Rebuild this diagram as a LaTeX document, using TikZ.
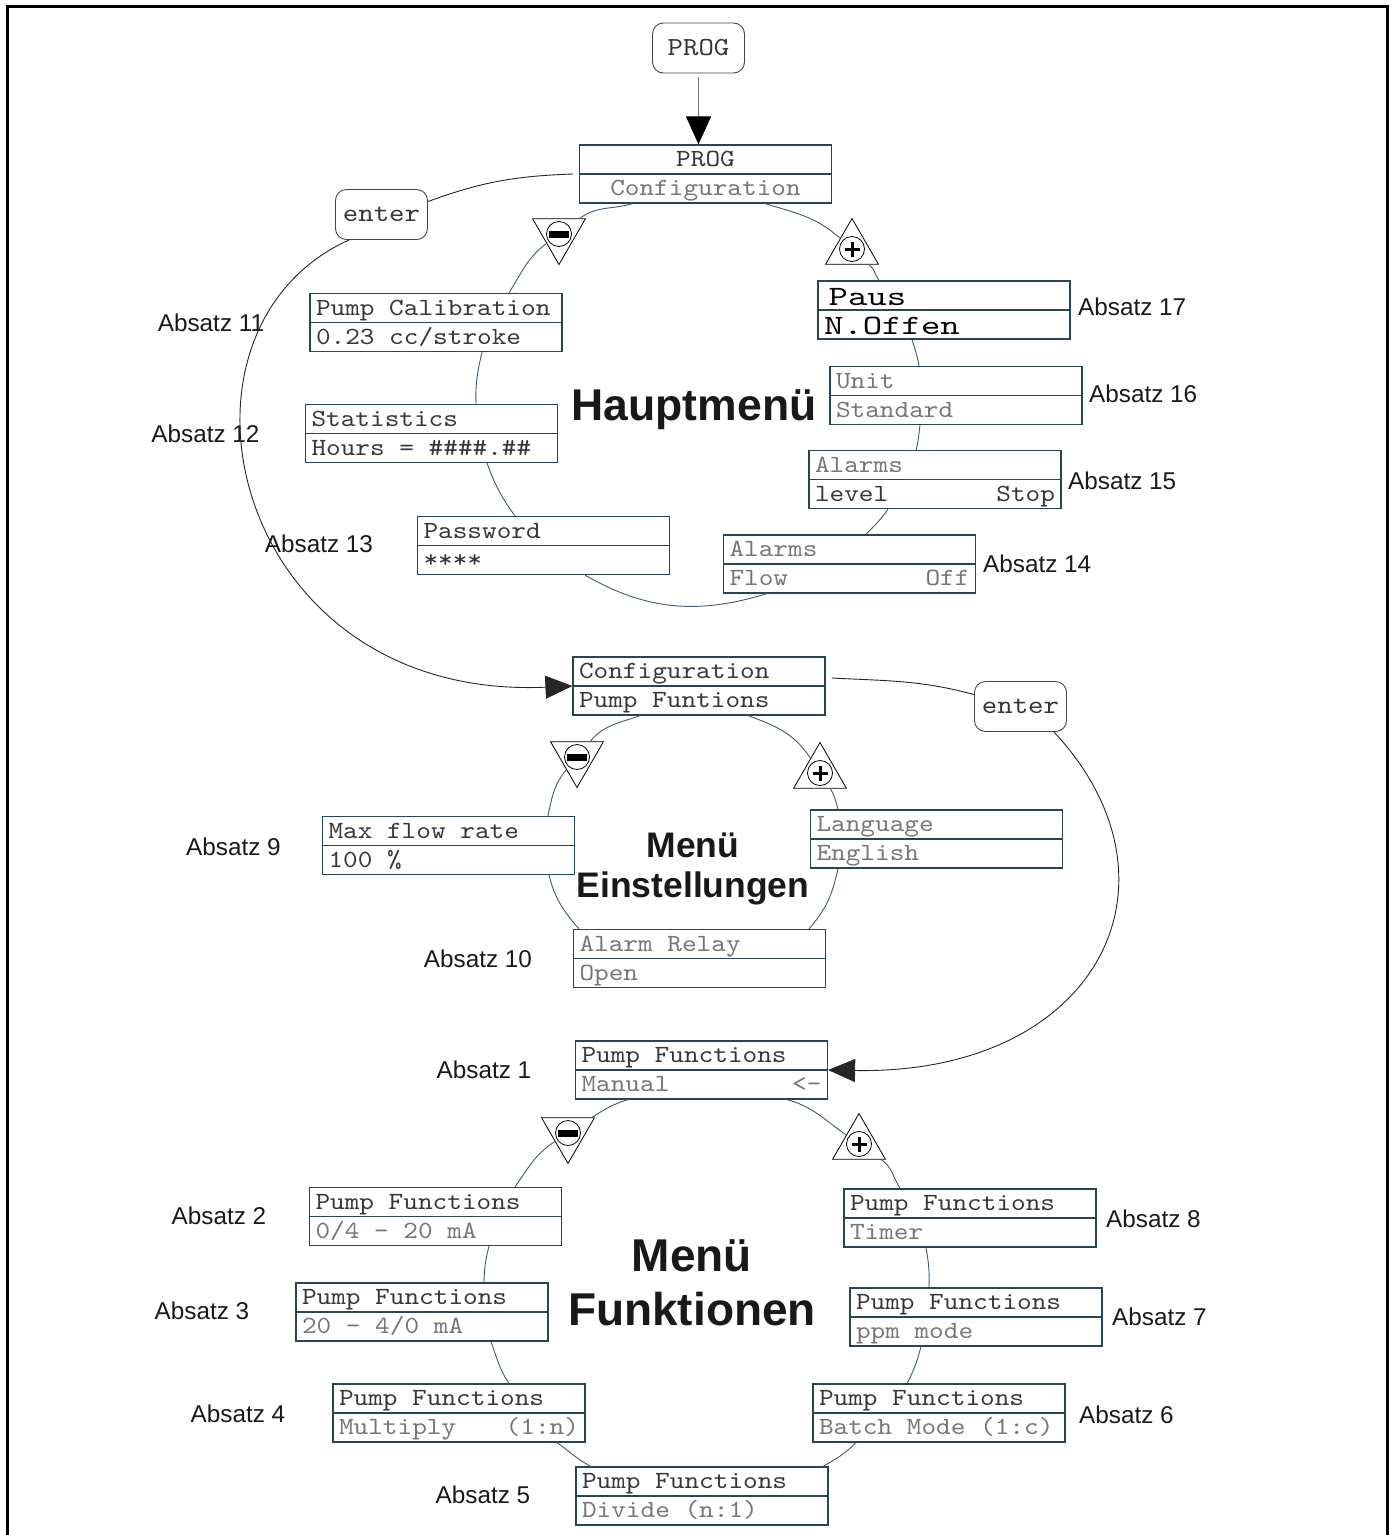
\documentclass[tikz,border=0pt]{standalone}
\usepackage{fontspec}
\setsansfont{Liberation Sans}
\newfontfamily\lcdfont[FakeStretch=1.13]{lmmono10-regular.otf}
\newfontfamily\lcdwide[FakeStretch=1.32]{lmmono10-regular.otf}
\usepackage{xcolor}
\usepackage{tikz}
\usetikzlibrary{shapes.geometric,arrows.meta}

\definecolor{boxline}{RGB}{38,70,86}
\definecolor{ringline}{RGB}{62,92,108}
\definecolor{lcdtext}{RGB}{55,55,55}
\definecolor{lcdlight}{RGB}{118,118,118}
\definecolor{keyline}{RGB}{70,70,70}
\definecolor{labeltext}{RGB}{25,25,25}

\newcommand{\lcdsize}{\lcdfont\fontsize{24.7}{29}\selectfont}
\newcommand{\lcdbig}{\lcdwide\fontsize{28}{29}\selectfont}
\newcommand{\keysize}{\lcdfont\fontsize{26}{30}\selectfont}
\newcommand{\screen}[2]{\spaceskip=14.65pt\relax\xspaceskip=14.65pt\relax
  \rule{0pt}{21.5pt}#1\\\rule[-7.5pt]{0pt}{7.5pt}#2}
\newcommand{\dimtxt}[1]{{\color{lcdlight}#1}}

\tikzset{
  lcd/.style={draw=boxline, fill=white, line width=1.2pt, text width=240pt,
    minimum height=58pt, inner xsep=6pt, inner ysep=0pt, align=left,
    text=lcdtext, font=\lcdsize,
    path picture={\draw[boxline, line width=1.2pt] (path picture bounding box.west) -- (path picture bounding box.east);}},
  key/.style={draw=keyline, fill=white, line width=0.9pt, rounded corners=11pt,
    minimum width=92pt, minimum height=50pt, inner sep=0pt, text=lcdtext, font=\keysize},
  tri/.style={regular polygon, regular polygon sides=3, draw=black, fill=white,
    line width=0.8pt, minimum size=61pt, inner sep=0pt},
  minuskey/.style={tri, shape border rotate=180},
  pluskey/.style={tri},
  ring/.style={draw=ringline, line width=0.9pt},
  link/.style={draw=black!85, line width=0.9pt},
  bigtip/.style={-{Triangle[length=27pt,width=23pt]}},
  absatz/.style={inner sep=0pt, text=labeltext, font=\sffamily\fontsize{24.3}{28}\selectfont},
  menutitle/.style={inner sep=0pt, align=center, text=labeltext}
}

\begin{document}
\begin{tikzpicture}[x=1pt,y=-1pt]
\useasboundingbox (0,0) rectangle (1393,1535);
\draw[line width=3pt] (7,1535) -- (7,6) -- (1387,6) -- (1387,1535);

\node[key] (prog) at (698.5,48) {PROG};
\node[lcd, align=center] (cfg) at (705.5,174) {\screen{PROG}{\dimtxt{Configuration}}};
\node[key] (enterA) at (381.5,214.5) {enter};
\node[minuskey] (mi1) at (559,234) {};
\node[pluskey] (pl1) at (852,249) {};
\node[lcd] (cal) at (436,322.5) {\screen{Pump Calibration}{0.23 cc/stroke}};
\node[lcd] (stat) at (431.5,433.5) {\screen{Statistics}{Hours = \#\#\#\#.\#\#}};
\node[lcd] (pwd) at (543.5,545.5) {\screen{Password}{****}};
\node[lcd, text=black, font=\lcdbig] (paus) at (944,310) {\rule{0pt}{24pt}\,Paus\\\rule[-5pt]{0pt}{5pt}N.Offen};
\node[lcd, text=lcdlight] (unit) at (956,395.5) {\screen{Unit}{Standard}};
\node[lcd] (alarmL) at (935,479.5) {\screen{\dimtxt{Alarms}}{level\hfill Stop}};
\node[lcd, text=lcdlight] (alarmF) at (849.5,564) {\screen{Alarms}{Flow\hfill Off}};

\node[absatz] (a11) at (211,322.5) {Absatz 11};
\node[absatz] (a12) at (205.5,433.5) {Absatz 12};
\node[absatz] (a13) at (319,543.5) {Absatz 13};
\node[absatz, anchor=west] (a17) at (1078,307) {Absatz 17};
\node[absatz, anchor=west] (a16) at (1089,394) {Absatz 16};
\node[absatz, anchor=west] (a15) at (1068,481) {Absatz 15};
\node[absatz, anchor=west] (a14) at (983,564) {Absatz 14};
\node[menutitle, font=\sffamily\bfseries\fontsize{44.5}{50}\selectfont] (hm) at (694,410) {Hauptmenü};

\node[lcd] (cfg2) at (699,686) {\screen{Configuration}{Pump Funtions}};
\node[key] (enterB) at (1020.5,706.5) {enter};
\node[minuskey] (mi2) at (577,757) {};
\node[pluskey] (pl2) at (820,773) {};
\node[lcd] (maxflow) at (448.5,845.5) {\screen{Max flow rate}{100 \%}};
\node[lcd, text=lcdlight] (lang) at (936.5,839) {\screen{Language}{English}};
\node[lcd, text=lcdlight] (relay) at (699.5,958.5) {\screen{Alarm Relay}{Open}};

\node[absatz] (a9) at (233.5,846.5) {Absatz 9};
\node[absatz] (a10) at (478,959) {Absatz 10};
\node[menutitle, font=\sffamily\bfseries\fontsize{35.5}{40}\selectfont] (me) at (693,869) {Menü\\Einstellungen};

\node[lcd] (manual) at (701.5,1070) {\screen{Pump Functions}{\dimtxt{Manual\hfill <-}}};
\node[minuskey] (mi3) at (568,1133) {};
\node[pluskey] (pl3) at (859,1144) {};
\node[lcd] (f2) at (435.5,1216.5) {\screen{Pump Functions}{\dimtxt{0/4 - 20 mA}}};
\node[lcd] (f3) at (422,1312) {\screen{Pump Functions}{\dimtxt{20 - 4/0 mA}}};
\node[lcd] (f4) at (459,1413) {\screen{Pump Functions}{\dimtxt{Multiply\hfill (1:n)}}};
\node[lcd] (f5) at (702,1496) {\screen{Pump Functions}{\dimtxt{Divide (n:1)}}};
\node[lcd] (f6) at (939,1413) {\screen{Pump Functions}{\dimtxt{Batch Mode (1:c)}}};
\node[lcd] (f7) at (976,1317) {\screen{Pump Functions}{\dimtxt{ppm mode}}};
\node[lcd] (f8) at (970,1218) {\screen{Pump Functions}{\dimtxt{Timer}}};

\node[absatz] (a1) at (484,1070) {Absatz 1};
\node[absatz] (a2) at (219,1216) {Absatz 2};
\node[absatz] (a3) at (202,1311) {Absatz 3};
\node[absatz] (a4) at (238,1414) {Absatz 4};
\node[absatz] (a5) at (483,1495) {Absatz 5};
\node[absatz, anchor=west] (a8) at (1106,1218.5) {Absatz 8};
\node[absatz, anchor=west] (a7) at (1112,1316.5) {Absatz 7};
\node[absatz, anchor=west] (a6) at (1079,1414.5) {Absatz 6};
\node[menutitle, font=\sffamily\bfseries\fontsize{46}{54}\selectfont] (mf) at (692,1283) {Menü\\Funktionen};

\foreach \k in {mi1,mi2,mi3}{
  \draw[fill=white, line width=0.8pt] (\k.center) circle (12.5);
  \fill ([xshift=-10pt,yshift=-3.5pt]\k.center) rectangle ([xshift=10pt,yshift=3.5pt]\k.center);
}
\foreach \k in {pl1,pl2,pl3}{
  \draw[fill=white, line width=0.8pt] (\k.center) circle (12.5);
  \draw[line width=3pt] ([xshift=-7.5pt]\k.center) -- ([xshift=7.5pt]\k.center)
    ([yshift=-7.5pt]\k.center) -- ([yshift=7.5pt]\k.center);
}

\draw[ring] ([xshift=-73pt]cfg.south) to[out=197,in=37] (mi1);
\draw[ring] (mi1) to[out=217,in=58] ([xshift=73pt]cal.north);
\draw[ring] ([xshift=46pt]cal.south) to[out=257,in=92] ([xshift=44.5pt]stat.north);
\draw[ring] ([xshift=55.5pt]stat.south) to[out=290,in=126] ([xshift=-28.5pt]pwd.north);
\draw[ring] ([xshift=41.5pt]pwd.south) to[out=330,in=197] ([xshift=-82.5pt]alarmF.south);
\draw[ring] ([xshift=16.5pt]alarmF.north) to[out=47,in=236] ([xshift=-47pt]alarmL.south);
\draw[ring] ([xshift=-19pt]alarmL.north) to[out=74,in=262] ([xshift=-36pt]unit.south);
\draw[ring] ([xshift=-37pt]unit.north) to[out=99,in=287] ([xshift=-32pt]paus.south);
\draw[ring] ([xshift=-65pt]paus.north) to[out=126,in=318] (pl1);
\draw[ring] (pl1) to[out=138,in=343] ([xshift=59.5pt]cfg.south);

\draw[ring] ([xshift=-59pt]cfg2.south) to[out=200,in=50] (mi2);
\draw[ring] (mi2) to[out=230,in=78] ([xshift=99.5pt]maxflow.north);
\draw[ring] ([xshift=100.5pt]maxflow.south) to[out=284,in=131] ([xshift=-120.5pt]relay.north);
\draw[ring] ([xshift=109.5pt]relay.north) to[out=49,in=258] ([xshift=-98.5pt]lang.south);
\draw[ring] ([xshift=-98.5pt]lang.north) to[out=105,in=303] (pl2);
\draw[ring] (pl2) to[out=123,in=340] ([xshift=49pt]cfg2.south);

\draw[ring] ([xshift=-73.5pt]manual.south) to[out=197,in=33] (mi3);
\draw[ring] (mi3) to[out=213,in=55] ([xshift=79.5pt]f2.north);
\draw[ring] ([xshift=53.5pt]f2.south) to[out=256,in=89] ([xshift=62pt]f3.north);
\draw[ring] ([xshift=69pt]f3.south) to[out=290,in=124] ([xshift=50pt]f4.north);
\draw[ring] ([xshift=98pt]f4.south) to[out=325,in=153] ([xshift=-111pt]f5.north);
\draw[ring] ([xshift=121pt]f5.north) to[out=30,in=225] ([xshift=-83pt]f6.south);
\draw[ring] ([xshift=-32pt]f6.north) to[out=62,in=255] ([xshift=-55pt]f7.south);
\draw[ring] ([xshift=-47pt]f7.north) to[out=88,in=280] ([xshift=-44pt]f8.south);
\draw[ring] ([xshift=-70pt]f8.north) to[out=122,in=325] (pl3);
\draw[ring] (pl3) to[out=145,in=345] ([xshift=85.5pt]manual.south);

\draw[draw=black!55, line width=1pt, -{Triangle[length=28pt,width=25pt,color=black]}] ([yshift=-4pt]prog.south) -- (prog.south |- cfg.north);
\draw[link] ([xshift=-6pt]cfg.west) to[out=182,in=20] ([yshift=13pt]enterA.east);
\draw[link, bigtip] ([xshift=14pt]enterA.south west) .. controls +(-200,90) and +(-343,15) .. (cfg2.west);
\draw[link] ([xshift=6pt,yshift=8pt]cfg2.east) to[out=-3,in=165] ([yshift=12pt]enterB.west);
\draw[link, bigtip] ([xshift=-13pt]enterB.south east) .. controls +(140,150) and +(270,5) .. (manual.east);
\end{tikzpicture}
\end{document}
